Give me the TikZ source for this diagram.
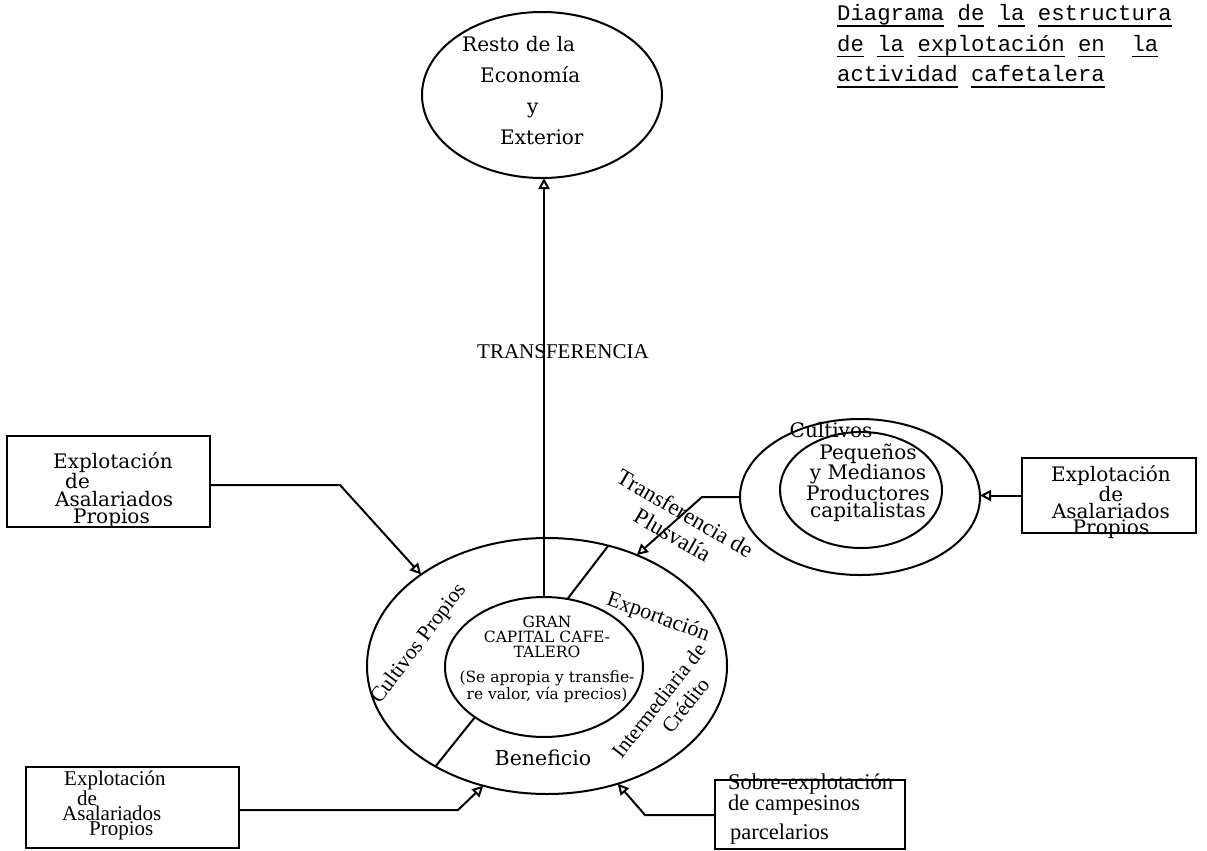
\documentclass[tikz,border=0pt]{standalone}
\usepackage{fontspec}
\usetikzlibrary{shapes.geometric,arrows.meta}
\newfontfamily\dvs{DejaVu Serif}
\newfontfamily\lsr{Liberation Serif}
\newfontfamily\lmono{Liberation Mono}
\newcommand\setfs[2]{\fontsize{#1pt}{#2pt}\selectfont}
\newcommand\uw[1]{\setbox0=\hbox{#1}\rlap{\rule[-6pt]{\wd0}{1.2pt}}\box0\relax}
\begin{document}
\begin{tikzpicture}[x=1pt,y=-1pt,
  ln/.style={line width=2pt},
  ell/.style={draw, ellipse, line width=2pt, inner sep=0pt, outer sep=0pt},
  boxs/.style={draw, rectangle, line width=1.6pt, inner sep=0pt, outer sep=0pt},
  txt/.style={inner sep=0pt, align=left},
  conn/.style={line width=2pt, -{Triangle[open,length=11pt,width=11pt]}},
]
\fill[white] (0,0) rectangle (1207,851);
\useasboundingbox (0,0) rectangle (1207,851);

% title
\node[txt, anchor=west, font=\lmono\setfs{22.3}{30.5}] (title) at (837,46)
  {\uw{Diagrama} \uw{de} \uw{la} \uw{estructura}\\
   \uw{de} \uw{la} \uw{explotación} \uw{en}\ \ \uw{la}\\
   \uw{actividad} \uw{cafetalera}};

% top ellipse
\node[ell, minimum width=240pt, minimum height=166pt] (resto) at (542,95) {};
\node[txt, anchor=west, font=\dvs\setfs{20}{31}] (restotxt) at (462,91)
  {Resto de la\\\hspace*{18pt}Economía\\\hspace*{65pt}y\\\hspace*{38pt}Exterior};

% central circles
\node[ell, minimum width=360pt, minimum height=256pt] (outer) at (547,666) {};
\node[ell, minimum width=198pt, minimum height=140pt] (inner) at (544,667) {};
\node[txt, align=center, font=\dvs\setfs{15.5}{15}] (gctxt) at (547,659)
  {GRAN\\CAPITAL CAFE-\\TALERO\\[10pt](Se apropia y transfie-\\re valor, vía precios)};
\draw[ln] (inner.71.6) -- (outer.63.8);
\draw[ln] (inner.216.4) -- (outer.222);
\node[txt, rotate=53, font=\lsr\setfs{21.5}{24}] (cultp) at (419,644) {Cultivos Propios};
\node[txt, rotate=-20, font=\lsr\setfs{22}{24}] (expo) at (658,618) {Exportación};
\node[txt, align=center, rotate=52, font=\lsr\setfs{21}{24}] (interm) at (668,708)
  {Intermediaria de\\\hspace*{26pt}Crédito};
\node[txt, font=\dvs\setfs{20.5}{24}] (benef) at (543,758) {Beneficio};

% right ellipses
\node[ell, minimum width=240pt, minimum height=156pt] (router) at (860,497) {};
\node[ell, minimum width=162pt, minimum height=116pt] (rinner) at (861,490) {};
\node[txt, font=\dvs\setfs{20}{24}] (cultr) at (831,430) {Cultivos};
\node[txt, align=center, font=\dvs\setfs{20}{17.5}] (pymtxt) at (868,483)
  {Pequeños\\y Medianos\\Productores\\capitalistas};

% labels
\node[txt, align=center, rotate=-30, font=\lsr\setfs{23}{25}] (transpl) at (679,524)
  {Transferencia de\\Plusvalía};
\node[txt, anchor=base west, font=\lsr\setfs{21}{22}] (transf) at (477,358) {TRANSFERENCIA};

% boxes
\node[boxs, minimum width=203pt, minimum height=91pt] (tlbox) at (108.5,481.5) {};
\node[txt, anchor=west, font=\dvs\setfs{20}{17.5}] (tltxt) at (53,490)
  {Explotación\\\hspace*{12pt}de\\\hspace*{2pt}Asalariados\\\hspace*{20pt}Propios};

\node[boxs, minimum width=174pt, minimum height=75pt] (rbox) at (1109,495.5) {};
\node[txt, align=center, font=\dvs\setfs{20}{16.5}] (rtxt) at (1111,502)
  {Explotación\\de\\Asalariados\\Propios};

\node[boxs, minimum width=213pt, minimum height=81pt] (blbox) at (132.5,807.5) {};
\node[txt, anchor=west, font=\lsr\setfs{21}{15}] (bltxt) at (62,805)
  {\hspace*{2pt}Explotación\\\hspace*{15pt}de\\Asalariados\\\hspace*{27pt}Propios};

\node[boxs, minimum width=190pt, minimum height=69pt] (brbox) at (810,814.5) {};
\node[txt, anchor=west, font=\lsr\setfs{22.5}{15}] (brtxt) at (728,809)
  {Sobre-explotación\\de campesinos\\[7pt]\hspace*{2pt}parcelarios};

% connectors
\draw[conn] (inner.north) -- (inner.north |- resto.south);
\coordinate (tlb) at (340,485);
\draw[conn] (tlbox.east |- tlb) -- (tlb) -- (outer.144);
\coordinate (blb) at (458,810);
\draw[conn] (blbox.east |- blb) -- (blb) -- (outer.-118.9);
\coordinate (brb) at (645,815);
\draw[conn] (brbox.west |- brb) -- (brb) -- (outer.-59);
\coordinate (plb) at (702,497);
\draw[conn] (router.west) -- (plb) -- (outer.51.8);
\draw[conn] (rbox.west) -- (rbox.west -| router.east);
\end{tikzpicture}
\end{document}
